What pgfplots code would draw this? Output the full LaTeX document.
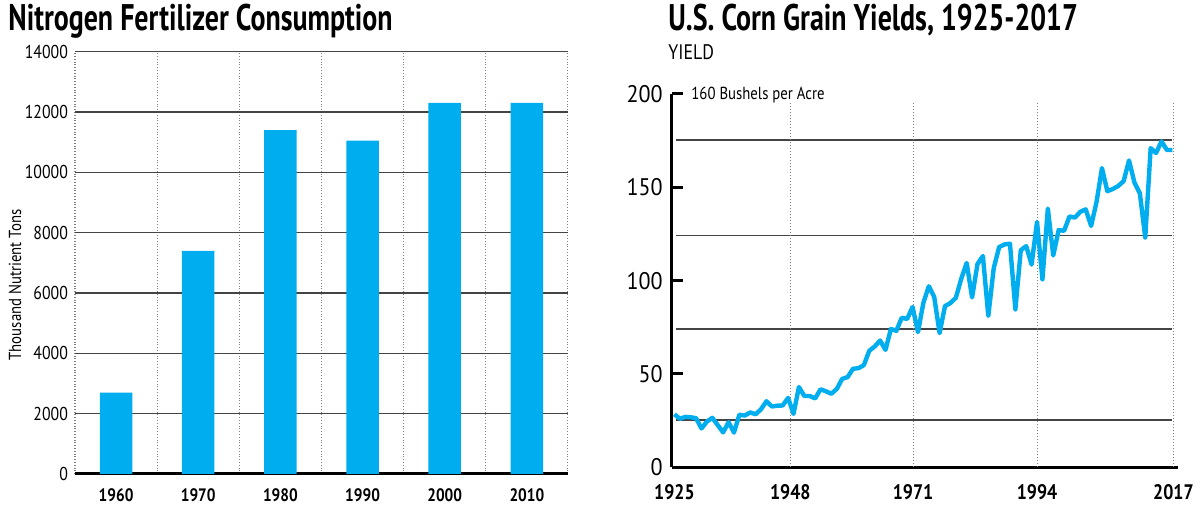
\documentclass[border=0pt]{standalone}
\usepackage{fontspec}
\setmainfont{PT Sans}[FakeStretch=0.85]
\newfontfamily\titlefont{PT Sans}[FakeStretch=0.755]
\newfontfamily\numfont{PT Sans}[FakeStretch=0.92]
\usepackage{pgfplots}
\pgfplotsset{compat=1.18}
\definecolor{cy}{HTML}{00AEEF}
\definecolor{gridc}{HTML}{444444}

\pgfplotstableread{
year yield
1925 28.4
1926 26.0
1927 27.0
1928 26.8
1929 26.3
1930 20.8
1931 24.5
1932 26.5
1933 22.6
1934 18.7
1935 24.2
1936 18.6
1937 28.2
1938 27.7
1939 29.4
1940 28.4
1941 31.1
1942 35.4
1943 32.6
1944 33.0
1945 33.1
1946 37.2
1947 28.6
1948 43.0
1949 38.2
1950 38.2
1951 36.9
1952 41.8
1953 40.7
1954 39.4
1955 42.0
1956 47.4
1957 48.3
1958 52.8
1959 53.1
1960 54.7
1961 62.4
1962 64.7
1963 67.9
1964 62.9
1965 74.1
1966 73.1
1967 80.1
1968 79.5
1969 85.9
1970 72.4
1971 88.1
1972 97.0
1973 91.3
1974 71.9
1975 86.4
1976 88.0
1977 90.8
1978 101.0
1979 109.5
1980 91.0
1981 108.9
1982 113.2
1983 81.1
1984 106.7
1985 118.0
1986 119.4
1987 119.8
1988 84.6
1989 116.3
1990 118.5
1991 108.6
1992 131.5
1993 100.7
1994 138.6
1995 113.5
1996 127.1
1997 126.7
1998 134.4
1999 133.8
2000 136.9
2001 138.2
2002 129.3
2003 142.2
2004 160.3
2005 147.9
2006 149.1
2007 150.7
2008 153.3
2009 164.4
2010 152.6
2011 146.8
2012 123.1
2013 171.0
2014 168.4
2015 174.6
2016 170.0
2017 170.0
}\corn

\pgfplotstableread{
idx value
0 2700
1 7400
2 11400
3 11050
4 12300
5 12300
}\nitro

\begin{document}
\begin{tikzpicture}
\path[use as bounding box] (0,0) rectangle (600pt,259.5pt);

% ---------- Left panel ----------
\begin{axis}[
  at={(37.5pt,22.5pt)}, anchor=south west, scale only axis,
  width=246.5pt, height=211.15pt,
  xmin=-0.5, xmax=5.5, ymin=0, ymax=14000,
  axis x line*=bottom, axis y line*=left,
  x axis line style={line width=1.5pt, black},
  y axis line style={draw=none},
  ytick={0,2000,...,14000},
  scaled y ticks=false,
  yticklabel style={/pgf/number format/1000 sep={}, font=\fontsize{9.3}{10}\selectfont, xshift=0pt},
  /pgf/number format/assume math mode=true,
  xtick={0,...,5},
  xticklabels={1960,1970,1980,1990,2000,2010},
  xticklabel style={font=\fontsize{9}{10}\selectfont\bfseries, yshift=-4pt},
  minor xtick={-0.5,0.5,...,5.5},
  xminorgrids, ymajorgrids,
  minor x grid style={densely dotted, gray, line width=0.5pt},
  major y grid style={gridc, line width=0.7pt},
  major tick length=0pt, minor tick length=0pt,
  ybar, bar width=16.25pt,
  clip=false,
]
\addplot[fill=cy, draw=none] table[x=idx, y=value] {\nitro};
\end{axis}
\node[rotate=90, font=\fontsize{8.7}{10}\selectfont] at (7.5pt,117pt) {Thousand Nutrient Tons};
\node[anchor=west, inner sep=0pt, font=\fontsize{18.5}{20}\selectfont\titlefont\bfseries] at (4pt,249pt) {Nitrogen Fertilizer Consumption};

% ---------- Right panel ----------
\begin{axis}[
  at={(336pt,25.85pt)}, anchor=south west, scale only axis,
  width=253pt, height=186.65pt,
  xmin=1924.5, xmax=2018, ymin=0, ymax=200,
  axis x line*=bottom, axis y line*=left,
  axis line style={line width=1.5pt, black},
  ytick={0,50,...,200},
  y tick style={line width=1.5pt, black},
  major tick length=5.5pt,
  tick align=inside,
  yticklabel style={font=\fontsize{12}{14}\selectfont\numfont, xshift=-1pt},
  /pgf/number format/assume math mode=true,
  xtick={1925,1946.4,1969.1,1992,2017.2},
  xticklabels={1925,1948,1971,1994,2017},
  x tick style={draw=none},
  xticklabel style={font=\fontsize{10.5}{12}\selectfont\bfseries, yshift=-5pt},
  clip=false,
]
\foreach \yy in {25.3,74,124.2,175.4}{
  \edef\temp{\noexpand\draw[gridc, line width=0.75pt] (axis cs:1925.3,\yy) -- (axis cs:2016.9,\yy);}
  \temp
}
\foreach \xx in {1946.4,1969.1,1992,2017.2}{
  \edef\temp{\noexpand\draw[densely dotted, gray, line width=0.5pt] (axis cs:\xx,0) -- (axis cs:\xx,195.2);}
  \temp
}
\foreach \xx in {1925,1946.4,1969.1,1992,2017.2}{
  \edef\temp{\noexpand\draw[gray!80, line width=1pt] (axis cs:\xx,0) ++(0,-1pt) -- ++(0,-4pt);}
  \temp
}
\addplot[cy, line width=2.2pt, line join=round, mark=none] table[x=year, y=yield] {\corn};
\end{axis}
\node[anchor=west, inner sep=0pt, font=\fontsize{8.7}{10}\selectfont] at (345.5pt,212pt) {160 Bushels per Acre};
\node[anchor=west, inner sep=0pt, font=\fontsize{10.5}{12}\selectfont] at (334pt,233.5pt) {YIELD};
\node[anchor=west, inner sep=0pt, font=\fontsize{18.5}{20}\selectfont\titlefont\bfseries] at (334pt,249.5pt) {U.S. Corn Grain Yields, 1925-2017};
\end{tikzpicture}
\end{document}
